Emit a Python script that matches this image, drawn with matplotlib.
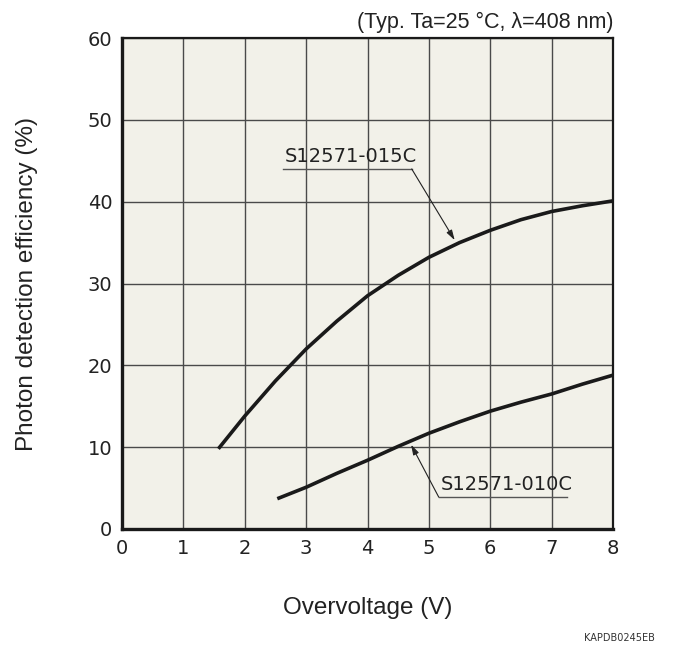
import matplotlib
matplotlib.use("Agg")
import matplotlib.pyplot as plt

# values
v_015c = [1.57, 2.0, 2.5, 3.0, 3.5, 4.0, 4.5, 5.0, 5.5, 6.0, 6.5, 7.0, 7.5, 8.0]
pde_015c = [9.8, 13.8, 18.1, 22.0, 25.4, 28.5, 31.0, 33.2, 35.0, 36.5, 37.8, 38.8, 39.5, 40.1]

v_010c = [2.53, 3.0, 3.5, 4.0, 4.5, 5.0, 5.5, 6.0, 6.5, 7.0, 7.5, 8.0]
pde_010c = [3.7, 5.1, 6.8, 8.4, 10.1, 11.7, 13.1, 14.4, 15.5, 16.5, 17.7, 18.8]

x_ticks = [0, 1, 2, 3, 4, 5, 6, 7, 8]
y_ticks = [0, 10, 20, 30, 40, 50, 60]

tick_font = "DejaVu Sans"
label_font = "Liberation Sans"

fig = plt.figure(figsize=(6.73, 6.6), dpi=100)
ax = fig.add_axes([0.1813, 0.1985, 0.7296, 0.7439])
ax.set_facecolor("#f2f1e9")

ax.set_xlim(0, 8)
ax.set_ylim(0, 60)
ax.set_xticks(x_ticks)
ax.set_yticks(y_ticks)
ax.tick_params(length=0, labelsize=14, pad=7)
for lab in ax.get_xticklabels() + ax.get_yticklabels():
    lab.set_fontfamily(tick_font)
    lab.set_color("#222222")

ax.grid(True, color="#4a4a4a", linewidth=1.0)
ax.set_axisbelow(True)

for side in ["top", "right"]:
    ax.spines[side].set_linewidth(1.6)
for side in ["left", "bottom"]:
    ax.spines[side].set_linewidth(2.4)
for sp in ax.spines.values():
    sp.set_color("#1a1a1a")

ax.plot(v_015c, pde_015c, color="#1a1a1a", linewidth=2.6, solid_capstyle="butt", zorder=3)
ax.plot(v_010c, pde_010c, color="#1a1a1a", linewidth=2.6, solid_capstyle="butt", zorder=3)

# labels with underline and leader arrow
def label(text, x0, x1, y, tip):
    ax.plot([x0, x1], [y, y], color="#555555", linewidth=1.0, clip_on=False, zorder=4)
    ax.text(x0 + 0.03, y + 0.4, text, fontsize=14, family=tick_font, color="#222222",
            ha="left", va="bottom", zorder=5)
    ax.annotate("", xy=tip, xytext=(x0 if tip[0] < x0 else x1, y),
                arrowprops=dict(arrowstyle="-|>,head_length=0.6,head_width=0.18",
                                color="#222222", lw=0.8, shrinkA=0, shrinkB=0),
                zorder=5)

label("S12571-015C", 2.62, 4.72, 44.0, (5.42, 35.3))
label("S12571-010C", 5.16, 7.25, 3.9, (4.71, 10.3))

ax.set_xlabel("Overvoltage (V)", fontsize=17.5, family=label_font, color="#222222", labelpad=28)
ax.set_ylabel("Photon detection efficiency (%)", fontsize=17.5, family=label_font,
              color="#222222", labelpad=36)

fig.text(0.911, 0.957, "(Typ. Ta=25 °C, λ=408 nm)", ha="right", va="baseline",
         fontsize=15.5, family=label_font, color="#222222")
fig.text(0.973, 0.034, "KAPDB0245EB", ha="right", va="center",
         fontsize=7, family=tick_font, color="#333333")

fig.savefig("out.png", dpi=100)
